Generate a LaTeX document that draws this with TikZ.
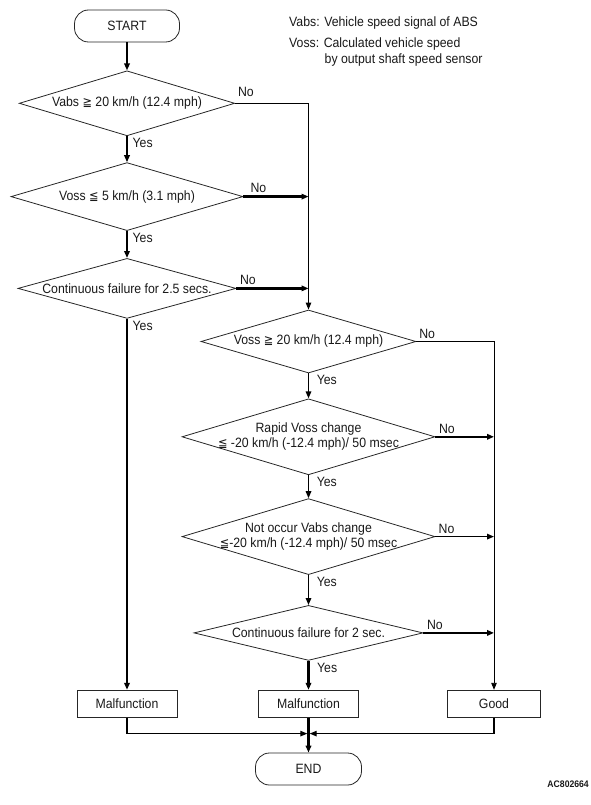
\documentclass[tikz,border=0pt]{standalone}
\usepackage{fontspec}
\setmainfont{Liberation Sans}[FakeStretch=0.91]
\newfontfamily\symfont{DejaVu Sans}[FakeStretch=0.91,Scale=0.92]
\usetikzlibrary{positioning,arrows.meta,shapes.geometric}
\newcommand{\gesym}{{\symfont ≧}}
\newcommand{\lesym}{{\symfont ≦}}
\tikzset{
  >={Triangle[length=7pt,width=5.5pt]},
  terminal/.style={
    rectangle,
    rounded corners=14pt,
    draw=black!85, line width=0.8pt,
    minimum width=105pt,
    minimum height=32pt,
    inner sep=0pt},
  decision/.style={
    diamond,
    draw=black!85, line width=0.8pt,
    inner sep=0pt,
    align=center},
  process/.style={
    rectangle,
    draw=black!85, line width=0.8pt,
    minimum width=100pt,
    minimum height=27pt,
    inner sep=0pt},
  line/.style={draw, line width=0.9pt, ->},
  midline/.style={draw, line width=1.5pt, ->},
  boldline/.style={draw, line width=2.3pt, ->},
  yesnode/.style={at start, anchor=north west, inner sep=1pt, xshift=#1},
  yesnode/.default=3.5pt,
  nonode/.style={at start, anchor=south west, inner sep=2.5pt},
  legend/.style={anchor=west, inner sep=0pt},
}
\begin{document}
\begin{tikzpicture}[x=1pt, y=1pt, font=\fontsize{13.5}{14.6}\selectfont, text=black!90]
  \useasboundingbox (0,0) rectangle (590,-805);
  % left column
  \node[terminal] (start) at (127,-26) {START};
  \node[decision, minimum width=215.5pt, minimum height=65pt, aspect=3.3,
    below=28pt of start] (vabsmin) {Vabs \gesym{} 20 km/h (12.4 mph)};
  \node[decision, minimum width=232pt, minimum height=68pt, aspect=3.4,
    below=26pt of vabsmin] (vosslow) {Voss \lesym{} 5 km/h (3.1 mph)};
  \node[decision, minimum width=218pt, minimum height=60pt, aspect=3.63, inner xsep=-3pt,
    below=27pt of vosslow] (failA) {Continuous failure for 2.5 secs.};
  % right column
  \node[decision, minimum width=215pt, minimum height=63pt, aspect=3.4]
    (vossmin) at (308.5,-341.5) {Voss \gesym{} 20 km/h (12.4 mph)};
  \node[decision, minimum width=253pt, minimum height=76pt, aspect=3.33, inner xsep=-14pt,
    below=25pt of vossmin] (rapid) {Rapid Voss change\\\lesym{} -20 km/h (-12.4 mph)/ 50 msec};
  \node[decision, minimum width=253pt, minimum height=76pt, aspect=3.33, inner xsep=-14pt,
    below=23pt of rapid] (vabschg) {Not occur Vabs change\\\lesym{}-20 km/h (-12.4 mph)/ 50 msec};
  \node[decision, minimum width=229pt, minimum height=55pt, aspect=4.16,
    below=30pt of vabschg] (failB) {Continuous failure for 2 sec.};
  \node[process, below=29pt of failB] (malB) {Malfunction};
  \node[terminal, minimum width=106pt, below=35pt of malB] (finish) {END};
  % results
  \coordinate (rcol) at (494,0);
  \node[process] (malA) at (malB -| start) {Malfunction};
  \node[process, minimum width=93pt] (good) at (malB -| rcol) {Good};
  \coordinate[below=16pt of malB.south] (merge);
  % legend
  \node[legend] (legvabs) at (289,-22.7) {Vabs: Vehicle speed signal of ABS};
  \node[legend] (legvoss) at (289,-44.3) {Voss: Calculated vehicle speed};
  \node[legend] (legby) at (324.5,-60) {by output shaft speed sensor};
  \node[anchor=east, inner sep=0pt, font=\bfseries\fontsize{9.5}{10}\selectfont]
    (code) at (589,-784) {AC802664};
  % Yes branches
  \draw[boldline] (start.south) -- (vabsmin.north);
  \draw[boldline] (vabsmin.south) -- node[yesnode] {Yes} (vosslow.north);
  \draw[boldline] (vosslow.south) -- node[yesnode] {Yes} (failA.north);
  \draw[boldline] (failA.south) -- node[yesnode] {Yes} (malA.north);
  \draw[midline] (vossmin.south) -- node[yesnode=6.5pt] {Yes} (rapid.north);
  \draw[midline] (rapid.south) -- node[yesnode=6.5pt] {Yes} (vabschg.north);
  \draw[midline] (vabschg.south) -- node[yesnode=6.5pt] {Yes} (failB.north);
  \draw[boldline] (failB.south) -- node[yesnode=6.5pt] {Yes} (malB.north);
  % No branches
  \draw[line] (vabsmin.east) -| node[nonode, yshift=3.5pt] {No} (vossmin.north);
  \draw[boldline] (vosslow.east) -- node[nonode, xshift=3.5pt] {No} (vosslow.east -| vossmin.north);
  \draw[boldline] (failA.east) -- node[nonode] {No} (failA.east -| vossmin.north);
  \draw[line] (vossmin.east) -| node[nonode] {No} (good.north);
  \draw[boldline] (rapid.east) -- node[nonode] {No} (rapid.east -| good.north);
  \draw[midline] (vabschg.east) -- node[nonode] {No} (vabschg.east -| good.north);
  \draw[boldline] (failB.east) -- node[nonode] {No} (failB.east -| good.north);
  % to END
  \draw[line, line width=1.1pt] (malA.south) |- ([xshift=-1.2pt]merge);
  \draw[line, line width=1.1pt] (good.south) |- ([xshift=1.2pt]merge);
  \draw[boldline] (malB.south) -- (finish.north);
\end{tikzpicture}
\end{document}
